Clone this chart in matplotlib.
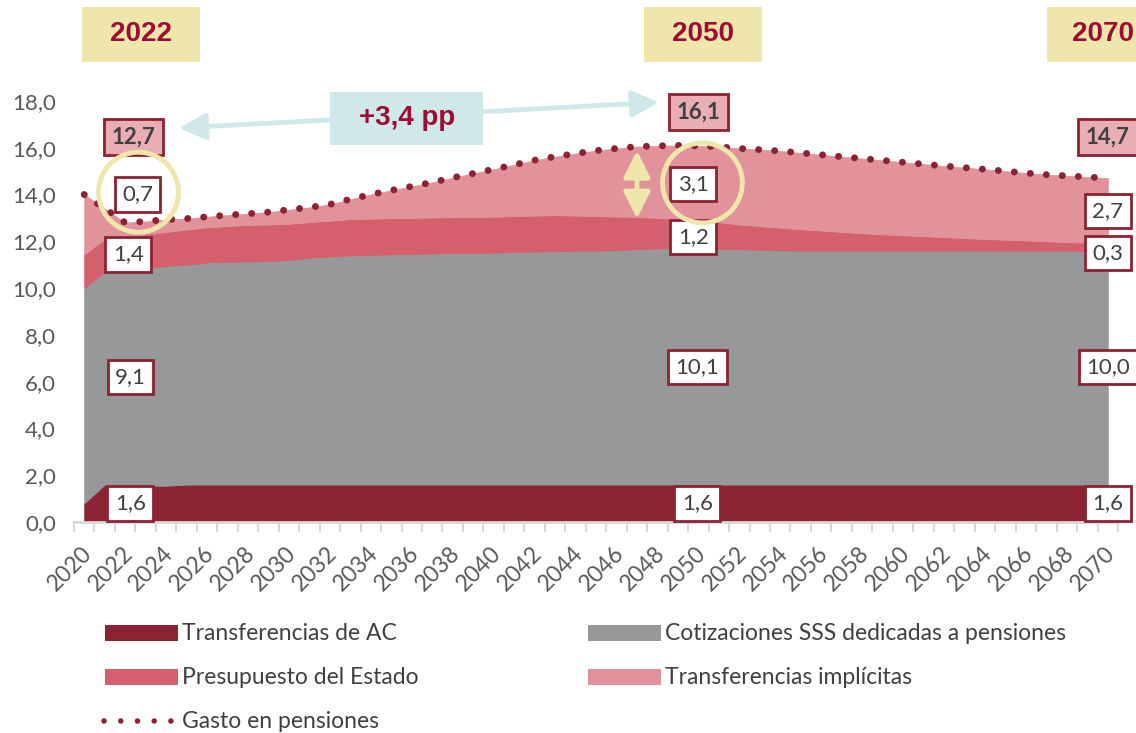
import numpy as np
import matplotlib.pyplot as plt
import matplotlib.transforms as mtransforms
from matplotlib.patches import Rectangle, Ellipse, FancyArrowPatch

plt.rcParams['font.family'] = ['Lato', 'DejaVu Sans']

# data (% of GDP)
years = np.arange(2020, 2071)
ac = [0.8, 1.6, 1.55, 1.55, 1.55, 1.6, 1.6, 1.6, 1.6, 1.6,
      1.6, 1.6, 1.6, 1.6, 1.6, 1.6, 1.6, 1.6, 1.6, 1.6,
      1.6, 1.6, 1.6, 1.6, 1.6, 1.6, 1.6, 1.6, 1.6, 1.6,
      1.6, 1.6, 1.6, 1.6, 1.6, 1.6, 1.6, 1.6, 1.6, 1.6,
      1.6, 1.6, 1.6, 1.6, 1.6, 1.6, 1.6, 1.6, 1.6, 1.6, 1.6]
sss = [9.2, 9.1, 9.15, 9.3, 9.4, 9.4, 9.5, 9.52, 9.54, 9.55,
       9.6, 9.7, 9.75, 9.8, 9.82, 9.84, 9.86, 9.88, 9.9, 9.9,
       9.92, 9.94, 9.96, 9.98, 10.0, 10.0, 10.02, 10.06, 10.1, 10.1,
       10.1, 10.08, 10.06, 10.04, 10.02, 10.0, 10.0, 10.0, 10.0, 10.0,
       10.0, 10.0, 10.0, 10.0, 10.0, 10.0, 10.0, 10.0, 10.0, 10.0, 10.0]
pres = [1.45, 1.4, 1.45, 1.45, 1.45, 1.5, 1.5, 1.53, 1.56, 1.57,
        1.55, 1.52, 1.53, 1.55, 1.55, 1.55, 1.54, 1.54, 1.53, 1.54,
        1.53, 1.54, 1.54, 1.54, 1.5, 1.48, 1.44, 1.38, 1.3, 1.25,
        1.2, 1.14, 1.06, 1.01, 0.96, 0.92, 0.86, 0.8, 0.75, 0.7,
        0.66, 0.62, 0.58, 0.54, 0.5, 0.47, 0.44, 0.4, 0.37, 0.34, 0.3]
impl = [2.55, 1.3, 0.65, 0.55, 0.53, 0.47, 0.45, 0.47, 0.48, 0.53,
        0.6, 0.63, 0.7, 0.85, 1.03, 1.19, 1.35, 1.5, 1.69, 1.86,
        2.03, 2.19, 2.37, 2.5, 2.65, 2.8, 2.91, 3.01, 3.08, 3.15,
        3.18, 3.22, 3.25, 3.27, 3.28, 3.26, 3.24, 3.22, 3.19, 3.16,
        3.12, 3.08, 3.04, 3.01, 2.98, 2.93, 2.88, 2.85, 2.83, 2.81, 2.8]
gasto = [14.0, 13.4, 12.8, 12.85, 12.93, 12.97, 13.05, 13.12, 13.18, 13.25,
         13.35, 13.45, 13.58, 13.8, 14.0, 14.18, 14.35, 14.52, 14.72, 14.9,
         15.08, 15.27, 15.47, 15.62, 15.75, 15.88, 15.97, 16.05, 16.08, 16.1,
         16.08, 16.04, 15.97, 15.92, 15.86, 15.78, 15.7, 15.62, 15.54, 15.46,
         15.38, 15.3, 15.22, 15.15, 15.08, 15.0, 14.92, 14.85, 14.8, 14.75, 14.7]

series_names = ['Transferencias de AC', 'Cotizaciones SSS dedicadas a pensiones',
                'Presupuesto del Estado', 'Transferencias implícitas']
line_name = 'Gasto en pensiones'

# labelled values for the three highlighted years
hl_years = ['2022', '2050', '2070']
lab_ac = ['1,6', '1,6', '1,6']
lab_sss = ['9,1', '10,1', '10,0']
lab_pres = ['1,4', '1,2', '0,3']
lab_impl = ['0,7', '3,1', '2,7']
lab_total = ['12,7', '16,1', '14,7']
delta_txt = '+3,4 pp'

DARK = '#8B2332'
GRAY = '#97989A'
RED = '#D45F6D'
PINK = '#E2929B'
KHAKI = '#EEE6AA'
WINE = '#9B0D32'
BLUE = '#D1E8EB'
TXT = '#404040'

W, H = 1136, 733
fig = plt.figure(figsize=(W / 100, H / 100), dpi=100)
ax = fig.add_axes([74 / W, 1 - 522 / H, (1118 - 74) / W, (522 - 101) / H])

cols = [DARK, GRAY, RED, PINK]
base = np.zeros(len(years))
for vals, c in zip([ac, sss, pres, impl], cols):
    top = base + np.array(vals)
    ax.fill_between(years, base, top, color=c, lw=0.6, ec=c, zorder=1)
    base = top

ax.plot(years, gasto, color=DARK, lw=5, linestyle=(0, (0.01, 2.3)),
        dash_capstyle='round', zorder=3)

ax.set_xlim(2019.5, 2070.5)
ax.set_ylim(0, 18)
yt = np.arange(0, 19, 2)
ax.set_yticks(yt)
ax.set_yticklabels([f'{v:.1f}'.replace('.', ',') for v in yt])
ax.tick_params(axis='y', length=0, pad=13, labelsize=16, labelcolor='#595959')

ax.set_xticks(np.arange(2019.5, 2071, 1))
ax.set_xticklabels([])
ax.tick_params(axis='x', which='major', length=7, width=1.5, color='#D9D9D9')
ax.set_xticks(years[::2], minor=True)
ax.set_xticklabels([str(y) for y in years[::2]], minor=True, rotation=45,
                   ha='right', va='center', rotation_mode='anchor')
ax.tick_params(axis='x', which='minor', length=0, pad=20, labelsize=16.5,
               labelcolor='#595959')
shift = mtransforms.ScaledTranslation(4 / 100, 0, fig.dpi_scale_trans)
for lbl in ax.get_xticklabels(minor=True):
    lbl.set_transform(lbl.get_transform() + shift)
for s in ['top', 'right', 'left']:
    ax.spines[s].set_visible(False)
ax.spines['bottom'].set_color('#D9D9D9')
ax.spines['bottom'].set_linewidth(2)


def vbox(x, y, s, total=False):
    ax.text(x, y, s, ha='center', va='center', fontsize=16, color=TXT,
            fontweight='bold' if total else 'normal', zorder=6, clip_on=False,
            bbox=dict(boxstyle='square,pad=0.33', fc='#E8AEB4' if total else 'white',
                      ec=DARK, lw=2))


# value boxes
xs = [2022.25, 2049.95, 2070.0]
for i, x in enumerate(xs):
    vbox(x, 0.8, lab_ac[i])
    vbox(x, 6.2 if i == 0 else 6.63, lab_sss[i])
vbox(2022.15, 11.45, lab_pres[0])
vbox(2049.75, 12.19, lab_pres[1])
vbox(2070.0, 11.5, lab_pres[2])
vbox(2022.6, 14.0, lab_impl[0])
vbox(2049.75, 14.45, lab_impl[1])
vbox(2070.0, 13.3, lab_impl[2])
vbox(2022.4, 16.45, lab_total[0], True)
vbox(2050.0, 17.53, lab_total[1], True)
vbox(2070.0, 16.45, lab_total[2], True)

# highlight circles
for cx, cy in [(2022.65, 14.1), (2050.2, 14.5)]:
    ax.add_patch(Ellipse((cx, cy), 3.9, 3.42, fill=False, ec=KHAKI, lw=3.5,
                         zorder=7, clip_on=False))

# vertical double arrow
ax.add_patch(FancyArrowPatch((2047.0, 16.0), (2047.0, 12.85),
                             arrowstyle='<|-|>,head_length=0.8,head_width=0.4',
                             mutation_scale=20, lw=3.5, color=KHAKI, zorder=5))

# +3,4 pp arrow and box
ax.add_patch(FancyArrowPatch((2024.5, 16.84), (2048.2, 17.95),
                             arrowstyle='<|-|>,head_length=0.8,head_width=0.4',
                             mutation_scale=20, lw=3.5, color=BLUE, zorder=4,
                             clip_on=False))
ax.add_patch(Rectangle((2032.0, 16.12), 7.5, 2.28, fc=BLUE, ec='none',
                       zorder=5, clip_on=False))
ax.text(2035.75, 17.26, delta_txt, ha='center', va='center', fontsize=20,
        fontweight='bold', color=WINE, family='Liberation Sans', zorder=6)

# year header boxes
for (x0, x1), xt, s in zip([(82, 200), (644, 762), (1047, 1165)],
                           [141, 703, 1103], hl_years):
    fig.add_artist(Rectangle((x0 / W, 1 - 62 / H), (x1 - x0) / W, 55 / H,
                             transform=fig.transFigure, fc=KHAKI, ec='none'))
    fig.text(xt / W, 1 - 34 / H, s, ha='center', va='center',
             fontsize=20, fontweight='bold', color=WINE, family='Liberation Sans')

# legend drawn by hand
leg = [(105, 633, DARK, series_names[0]), (588, 633, GRAY, series_names[1]),
       (105, 677, RED, series_names[2]), (588, 677, PINK, series_names[3])]
for x, y, c, name in leg:
    fig.add_artist(Rectangle((x / W, 1 - (y + 8) / H), 73 / W, 16 / H,
                             transform=fig.transFigure, fc=c, ec='none'))
    fig.text((x + 77) / W, 1 - y / H, name, ha='left', va='center',
             fontsize=16.5, color=TXT)
fig.add_artist(plt.Line2D([104 / W, 172 / W], [1 - 721 / H, 1 - 721 / H],
                          transform=fig.transFigure, color=DARK, lw=4,
                          linestyle=(0, (0.01, 3.0)), dash_capstyle='round'))
fig.text(182 / W, 1 - 721 / H, line_name, ha='left', va='center',
         fontsize=16.5, color=TXT)

fig.savefig('out.png', dpi=100)
